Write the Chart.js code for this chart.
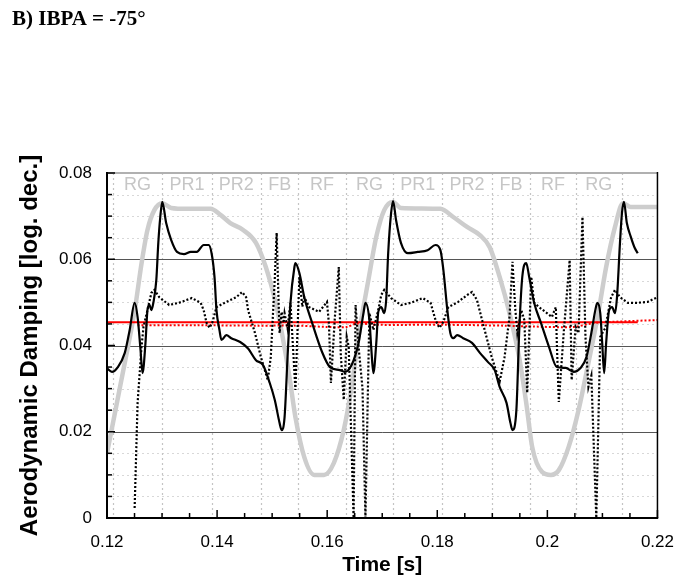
<!DOCTYPE html>
<html>
<head>
<meta charset="utf-8">
<script src="https://cdn.jsdelivr.net/npm/chart.js@4/dist/chart.umd.min.js"></script>
<style>
html,body{margin:0;padding:0;background:#fff;}
#wrap{width:688px;height:586px;position:relative;}
</style>
</head>
<body>
<div id="wrap"><canvas id="c" width="688" height="586"></canvas></div>
<script>
// ---- data ----
const greyT = [0.1200,0.12143,0.12323,0.12502,0.12627,0.12735,0.12860,0.13004,0.13165,0.13452,0.13882,0.14061,0.14240,0.14473,0.14706,0.14885,0.15065,0.15190,0.15315,0.15423,0.15584,0.15763,0.15943,0.16122,0.16301,0.16444,0.16588,0.16749,0.16892,0.17036,0.17197,0.17340,0.18057,0.18290,0.18541,0.18774,0.18953,0.19133,0.19312,0.19491,0.19616,0.19724,0.19903,0.20065,0.20208,0.20387,0.20566,0.20746,0.20925,0.21068,0.21229,0.21373,0.21516,0.2200];
const greyV = [0.0150,0.0243,0.0360,0.0480,0.0590,0.0668,0.0714,0.0730,0.0719,0.0717,0.0717,0.0703,0.0684,0.0668,0.0638,0.0582,0.0499,0.0420,0.0327,0.0234,0.0141,0.0100,0.0100,0.0128,0.0204,0.0304,0.0436,0.0552,0.0652,0.0714,0.0733,0.0719,0.0717,0.0698,0.0675,0.0656,0.0628,0.0559,0.0475,0.0370,0.0267,0.0165,0.0107,0.0100,0.0111,0.0165,0.0250,0.0360,0.0475,0.0582,0.0675,0.0730,0.0721,0.0721];

const solidT = [0.1200,0.12090,0.12197,0.12323,0.12412,0.12502,0.12556,0.12609,0.12645,0.12699,0.12735,0.12771,0.12806,0.12842,0.12896,0.12932,0.12968,0.13004,0.13075,0.13165,0.13272,0.13398,0.13523,0.13631,0.13756,0.13846,0.13900,0.13953,0.13989,0.14043,0.14079,0.14168,0.14258,0.14419,0.14563,0.14706,0.14832,0.14957,0.15047,0.15136,0.15172,0.15226,0.15280,0.15333,0.15405,0.15423,0.15495,0.15584,0.15728,0.15907,0.16050,0.16229,0.16319,0.16444,0.16570,0.16659,0.16695,0.16767,0.16803,0.16839,0.16892,0.16928,0.16982,0.17036,0.17072,0.17108,0.17161,0.17197,0.17251,0.17340,0.17466,0.17645,0.17824,0.17968,0.18057,0.18111,0.18183,0.18237,0.18290,0.18362,0.18470,0.18631,0.18774,0.18918,0.19043,0.19133,0.19258,0.19330,0.19366,0.19437,0.19491,0.19545,0.19616,0.19670,0.19760,0.19885,0.20029,0.20172,0.20333,0.20477,0.20602,0.20710,0.20799,0.20871,0.20907,0.20961,0.20996,0.21032,0.21068,0.21122,0.21176,0.21229,0.21265,0.21319,0.21355,0.21391,0.21444,0.21516,0.21588,0.21642];
const solidV = [0.0347,0.0339,0.0350,0.0383,0.0436,0.0499,0.0466,0.0390,0.0336,0.0406,0.0482,0.0494,0.0482,0.0499,0.0552,0.0638,0.0698,0.0733,0.0684,0.0645,0.0617,0.0612,0.0617,0.0617,0.0633,0.0633,0.0614,0.0559,0.0482,0.0436,0.0413,0.0424,0.0417,0.0408,0.0393,0.0366,0.0355,0.0313,0.0274,0.0220,0.0204,0.0234,0.0373,0.0499,0.0582,0.0591,0.0568,0.0512,0.0452,0.0385,0.0350,0.0343,0.0339,0.0355,0.0406,0.0475,0.0499,0.0459,0.0390,0.0336,0.0406,0.0478,0.0489,0.0475,0.0506,0.0614,0.0707,0.0735,0.0691,0.0638,0.0614,0.0617,0.0621,0.0633,0.0621,0.0575,0.0482,0.0429,0.0417,0.0424,0.0417,0.0406,0.0383,0.0362,0.0343,0.0304,0.0267,0.0220,0.0204,0.0250,0.0440,0.0560,0.0591,0.0559,0.0499,0.0452,0.0397,0.0350,0.0348,0.0339,0.0348,0.0373,0.0429,0.0482,0.0499,0.0475,0.0406,0.0336,0.0406,0.0482,0.0489,0.0475,0.0512,0.0638,0.0707,0.0733,0.0684,0.0652,0.0626,0.0614];

const dottedT = [0.12502,0.12556,0.12627,0.12663,0.12735,0.12806,0.12860,0.12950,0.13129,0.13308,0.13541,0.13702,0.13756,0.13810,0.13864,0.13918,0.13989,0.14168,0.14348,0.14455,0.14527,0.14563,0.14688,0.14796,0.14921,0.14975,0.15047,0.15082,0.15118,0.15136,0.15172,0.15208,0.15226,0.15280,0.15333,0.15423,0.15495,0.15548,0.15584,0.15674,0.15853,0.15996,0.16032,0.16068,0.16140,0.16211,0.16247,0.16301,0.16355,0.16391,0.16480,0.16516,0.16570,0.16642,0.16695,0.16767,0.16839,0.16928,0.16982,0.17036,0.17161,0.17340,0.17520,0.17735,0.17878,0.17968,0.18039,0.18111,0.18201,0.18380,0.18541,0.18631,0.18720,0.18828,0.18989,0.19133,0.19222,0.19312,0.19366,0.19419,0.19455,0.19527,0.19581,0.19634,0.19706,0.19760,0.19849,0.19993,0.20082,0.20154,0.20172,0.20208,0.20297,0.20405,0.20441,0.20513,0.20566,0.20638,0.20692,0.20746,0.20799,0.20889,0.20961,0.21050,0.21158,0.21229,0.21319,0.21462,0.21642,0.21821,0.2200];
const dottedV = [0.0023,0.0267,0.0397,0.0443,0.0482,0.0522,0.0529,0.0512,0.0494,0.0499,0.0510,0.0499,0.0482,0.0452,0.0441,0.0455,0.0489,0.0501,0.0512,0.0524,0.0512,0.0482,0.0429,0.0373,0.0320,0.0373,0.0552,0.0661,0.0499,0.0429,0.0478,0.0452,0.0475,0.0440,0.0499,0.0297,0.0559,0.0490,0.0512,0.0489,0.0478,0.0501,0.0450,0.0313,0.0466,0.0582,0.0380,0.0274,0.0420,0.0397,0.0000,0.0494,0.0397,0.0300,0.0000,0.0475,0.0436,0.0482,0.0517,0.0529,0.0510,0.0494,0.0499,0.0510,0.0499,0.0459,0.0441,0.0455,0.0489,0.0501,0.0517,0.0524,0.0506,0.0452,0.0373,0.0316,0.0373,0.0466,0.0594,0.0482,0.0429,0.0482,0.0459,0.0290,0.0559,0.0499,0.0489,0.0475,0.0466,0.0489,0.0406,0.0269,0.0430,0.0598,0.0320,0.0443,0.0429,0.0698,0.0420,0.0304,0.0330,0.0000,0.0420,0.0440,0.0512,0.0529,0.0512,0.0499,0.0499,0.0501,0.0512];

const meanT = [0.1200,0.21642];
const meanV = [0.0454,0.0454];

const runMeanT = [0.12556,0.13667,0.14742,0.15459,0.15996,0.16355,0.16534,0.16892,0.18147,0.19222,0.19760,0.20477,0.20835,0.21194,0.2200];
const runMeanV = [0.0447,0.0447,0.0446,0.0446,0.0443,0.0443,0.0451,0.0448,0.0448,0.0446,0.0444,0.0443,0.0452,0.0455,0.0459];

const phaseBounds = [0.12108,0.13004,0.13900,0.14796,0.15477,0.16337,0.17197,0.18093,0.18989,0.19688,0.20513,0.21355];
const phaseLabels = ['RG','PR1','PR2','FB','RF','RG','PR1','PR2','FB','RF','RG'];

const xTickVals = [0.12,0.14,0.16,0.18,0.20,0.22];
const xTickLabels = ['0.12','0.14','0.16','0.18','0.2','0.22'];
const yTickVals = [0,0.02,0.04,0.06,0.08];
const yTickLabels = ['0','0.02','0.04','0.06','0.08'];
const xMinorStep = 0.005;
const yMinorStep = 0.005;

// ---- helpers ----
const pts = (t, v) => t.map((x, i) => ({x: x, y: v[i]}));
const SANS = "'Liberation Sans', Arial, Helvetica, sans-serif";

const backPlugin = {
  id: 'back',
  beforeDatasetsDraw(chart) {
    const {ctx, chartArea: a, scales: {x, y}} = chart;
    ctx.save();
    // minor horizontal dotted lines
    ctx.strokeStyle = '#d8d8d8';
    ctx.lineWidth = 1;
    ctx.setLineDash([2, 3]);
    for (let k = 1; k < 16; k++) {
      if (k % 4 === 0) continue;
      const py = Math.round(y.getPixelForValue(k * yMinorStep)) + 0.5;
      ctx.beginPath(); ctx.moveTo(a.left, py); ctx.lineTo(a.right, py); ctx.stroke();
    }
    // phase boundaries
    ctx.strokeStyle = '#c4c4c4';
    ctx.lineWidth = 1.2;
    ctx.setLineDash([2, 3]);
    phaseBounds.forEach(t => {
      const px = Math.round(x.getPixelForValue(t)) + 0.5;
      ctx.beginPath(); ctx.moveTo(px, a.top); ctx.lineTo(px, a.bottom); ctx.stroke();
    });
    ctx.setLineDash([]);
    // major horizontal lines
    ctx.strokeStyle = '#555';
    ctx.lineWidth = 1;
    [0.02, 0.04, 0.06].forEach(v => {
      const py = Math.round(y.getPixelForValue(v)) + 0.5;
      ctx.beginPath(); ctx.moveTo(a.left, py); ctx.lineTo(a.right, py); ctx.stroke();
    });
    // phase labels
    ctx.fillStyle = '#c6c6c6';
    ctx.font = '18px ' + SANS;
    ctx.textAlign = 'center';
    ctx.textBaseline = 'middle';
    for (let i = 0; i < phaseLabels.length; i++) {
      const px = (x.getPixelForValue(phaseBounds[i]) + x.getPixelForValue(phaseBounds[i + 1])) / 2;
      ctx.fillText(phaseLabels[i], px, a.top + 12);
    }
    ctx.restore();
  },
  afterDatasetsDraw(chart) {
    const {ctx, chartArea: a, scales: {x, y}} = chart;
    ctx.save();
    // frame
    ctx.strokeStyle = '#b0b0b0';
    ctx.lineWidth = 2;
    ctx.beginPath(); ctx.moveTo(a.left, a.top); ctx.lineTo(a.right, a.top); ctx.stroke();
    ctx.strokeStyle = '#000';
    ctx.lineWidth = 1.5;
    ctx.beginPath(); ctx.moveTo(a.right, a.top - 1); ctx.lineTo(a.right, a.bottom); ctx.stroke();
    ctx.lineWidth = 2;
    ctx.beginPath(); ctx.moveTo(a.left, a.top - 1); ctx.lineTo(a.left, a.bottom); ctx.lineTo(a.right + 0.75, a.bottom); ctx.stroke();
    // ticks (inward)
    ctx.lineWidth = 1.5;
    const nx = Math.round((x.max - x.min) / xMinorStep);
    for (let k = 0; k <= nx; k++) {
      const v = x.min + k * xMinorStep;
      const px = x.getPixelForValue(v);
      const len = (k % 4 === 0) ? 8 : 5;
      ctx.beginPath(); ctx.moveTo(px, a.bottom); ctx.lineTo(px, a.bottom - len); ctx.stroke();
    }
    const ny = Math.round((y.max - y.min) / yMinorStep);
    for (let k = 0; k <= ny; k++) {
      const v = y.min + k * yMinorStep;
      const py = y.getPixelForValue(v);
      const len = (k % 4 === 0) ? 8 : 5;
      ctx.beginPath(); ctx.moveTo(a.left, py); ctx.lineTo(a.left + len, py); ctx.stroke();
    }
    ctx.restore();
  }
};

const chart = new Chart(document.getElementById('c'), {
  type: 'line',
  data: {
    datasets: [
      {label: 'instantaneous', data: pts(solidT, solidV), borderColor: '#000', borderWidth: 2.2, pointRadius: 0, cubicInterpolationMode: 'monotone'},
      {label: 'blade', data: pts(dottedT, dottedV), borderColor: '#000', borderWidth: 2.2, borderDash: [2, 2], pointRadius: 0, tension: 0},
      {label: 'mean', data: pts(meanT, meanV), borderColor: '#ff0000', borderWidth: 2, pointRadius: 0},
      {label: 'running mean', data: pts(runMeanT, runMeanV), borderColor: '#ff0000', borderWidth: 2, borderDash: [2, 2], pointRadius: 0, tension: 0.3},
      {label: 'reference', data: pts(greyT, greyV), borderColor: '#cdcdcd', borderWidth: 4.5, pointRadius: 0, cubicInterpolationMode: 'monotone'}
    ]
  },
  options: {
    responsive: false,
    animation: false,
    devicePixelRatio: 1,
    layout: {padding: {left: 12, right: 23, top: 0, bottom: 0}},
    plugins: {
      legend: {display: false},
      tooltip: {enabled: false},
      title: {
        display: true,
        text: 'B) IBPA = -75°',
        align: 'start',
        color: '#000',
        font: {family: "'Liberation Serif', 'Times New Roman', serif", size: 21, weight: 'bold'},
        padding: {top: 7, bottom: 140.8}
      }
    },
    scales: {
      x: {
        type: 'linear', min: 0.12, max: 0.22,
        afterBuildTicks: s => { s.ticks = xTickVals.map(v => ({value: v})); },
        afterFit: s => { s.height = 68; },
        grid: {display: false, drawTicks: false},
        border: {display: false},
        ticks: {callback: (v, i) => xTickLabels[i], color: '#000', font: {family: SANS, size: 17}, padding: 14, maxRotation: 0, autoSkip: false},
        title: {display: true, text: 'Time [s]', color: '#000', font: {family: SANS, size: 21, weight: 'bold'}, padding: {top: 0, bottom: 8}}
      },
      y: {
        type: 'linear', min: 0, max: 0.08,
        afterBuildTicks: s => { s.ticks = yTickVals.map(v => ({value: v})); },
        afterFit: s => { s.width = 95; },
        grid: {display: false, drawTicks: false},
        border: {display: false},
        ticks: {callback: (v, i) => yTickLabels[i], color: '#000', font: {family: SANS, size: 17}, padding: 15, autoSkip: false},
        title: {display: true, text: 'Aerodynamic Damping [log. dec.]', color: '#000', font: {family: SANS, size: 24, weight: 'bold'}, padding: {top: 3.6, bottom: 0}}
      }
    }
  },
  plugins: [backPlugin]
});
</script>
</body>
</html>
